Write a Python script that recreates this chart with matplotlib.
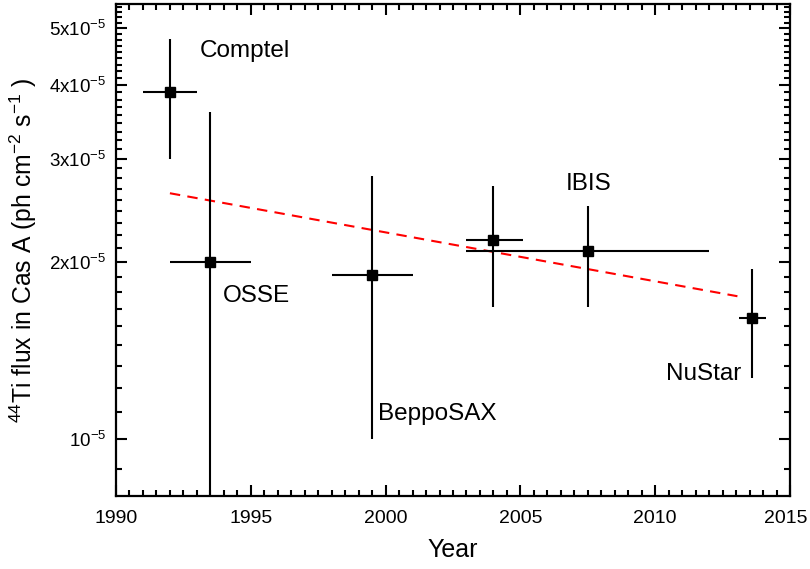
# 44Ti flux in Cas A versus year, several instruments, with exponential decay fit

import numpy as np
import matplotlib
matplotlib.use("Agg")
import matplotlib.pyplot as plt
import matplotlib.transforms as mtransforms

plt.rcParams['font.family'] = ['Liberation Sans', 'DejaVu Sans']
plt.rcParams['mathtext.fontset'] = 'custom'
plt.rcParams['mathtext.rm'] = 'Liberation Sans'
plt.rcParams['mathtext.it'] = 'Liberation Sans:italic'
plt.rcParams['mathtext.default'] = 'regular'

instruments = ["Comptel", "OSSE", "BeppoSAX", "ISGRI", "IBIS", "NuStar"]
year = [1992.0, 1993.5, 1999.5, 2004.0, 2007.5, 2013.6]
year_lo = [1991.0, 1992.0, 1998.0, 2003.0, 2003.0, 2013.1]
year_hi = [1993.0, 1995.0, 2001.0, 2005.1, 2012.0, 2014.1]
flux = [3.9e-5, 2.0e-5, 1.9e-5, 2.18e-5, 2.09e-5, 1.61e-5]
flux_lo = [3.0e-5, 0.4e-5, 1.0e-5, 1.68e-5, 1.68e-5, 1.27e-5]
flux_hi = [4.8e-5, 3.6e-5, 2.8e-5, 2.70e-5, 2.49e-5, 1.95e-5]

# decay fit (straight in log space) end points
fit_year = [1992.0, 2013.05]
fit_flux = [2.62e-5, 1.75e-5]

# text labels
label_names = ["Comptel", "OSSE", "BeppoSAX", "IBIS", "NuStar"]
label_x = [1993.1, 1993.95, 1999.7, 2006.7, 2010.4]
label_y = [4.57e-5, 1.75e-5, 1.105e-5, 2.72e-5, 1.29e-5]

y_major = [1e-5, 2e-5, 3e-5, 4e-5, 5e-5]
y_major_labels = ["10$^{-5}$", "2x10$^{-5}$", "3x10$^{-5}$", "4x10$^{-5}$", "5x10$^{-5}$"]

fig = plt.figure(figsize=(8.1, 5.69), dpi=100)
ax = fig.add_axes([0.1432, 0.1283, 0.8321, 0.8647])

year = np.array(year)
flux = np.array(flux)
xerr = [year - np.array(year_lo), np.array(year_hi) - year]
yerr = [flux - np.array(flux_lo), np.array(flux_hi) - flux]

ax.plot(fit_year, fit_flux, color='red', lw=1.5, dashes=(5, 3.5), zorder=2)
ax.errorbar(year, flux, xerr=xerr, yerr=yerr, fmt='s', color='black',
            ms=7.5, elinewidth=1.5, capsize=0, zorder=3)

for name, tx, ty in zip(label_names, label_x, label_y):
    ax.text(tx, ty, name, fontsize=17.5, ha='left', va='center')

ax.set_yscale('log')
ax.set_xlim(1990, 2015)
ax.set_ylim(0.8e-5, 5.5e-5)

ax.set_xticks(np.arange(1990, 2016, 5))
ax.set_xticks(np.arange(1990, 2015.01, 0.5), minor=True)
ax.set_yticks(y_major)
ax.set_yticklabels(y_major_labels)
minor_y = [(m + k / 9.0) * 1e-5 for m in range(0, 6) for k in range(1, 9)]
minor_y = [v for v in minor_y if 0.8e-5 <= v <= 5.5e-5]
ax.set_yticks(minor_y, minor=True)
ax.set_yticklabels([], minor=True)

ax.tick_params(which='both', direction='in', top=True, right=True, width=1.5)
ax.tick_params(which='major', length=7.7)
ax.tick_params(which='minor', length=4.3)
ax.tick_params(axis='x', which='major', pad=10, labelsize=14)
ax.tick_params(axis='y', which='major', pad=7, labelsize=13.5)
for sp in ax.spines.values():
    sp.set_linewidth(1.6)

# keep the last year label inside the canvas
last = ax.get_xticklabels()[-1]
last.set_transform(last.get_transform() + mtransforms.ScaledTranslation(-3 / 72, 0, fig.dpi_scale_trans))

ax.set_xlabel("Year", fontsize=18, labelpad=8)
ax.set_ylabel("$^{44}$Ti flux in Cas A (ph cm$^{-2}$ s$^{-1}$ )", fontsize=17.8, labelpad=7)

fig.savefig("out.png", dpi=100)
